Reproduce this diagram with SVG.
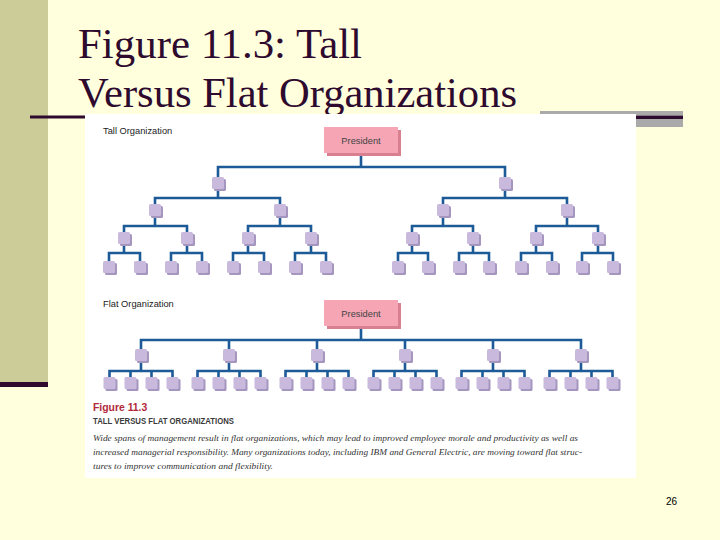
<svg xmlns="http://www.w3.org/2000/svg" xmlns:xlink="http://www.w3.org/1999/xlink" width="720" height="540" viewBox="0 0 720 540">
<style>
.title{font-family:"Liberation Serif","Times New Roman",serif;font-size:43px;fill:#2e0a2e}
.lbl{font-family:"Liberation Sans",Arial,sans-serif;font-size:9.3px;fill:#222}
.pres{font-family:"Liberation Sans",Arial,sans-serif;font-size:9.3px;fill:#444;text-anchor:middle}
.conn{fill:none;stroke:#1c5b97;stroke-width:2.6;stroke-linejoin:miter}
.nface{fill:#c9badd}
.nshadow{fill:#a596c0}
.pface{fill:#f5a5b4}
.pshadow{fill:#d8808f}
.capred{font-family:"Liberation Sans",Arial,sans-serif;font-weight:bold;font-size:10.4px;fill:#b0283a}
.caphead{font-family:"Liberation Sans",Arial,sans-serif;font-weight:bold;font-size:9.5px;fill:#3a3a3a}
.capital{font-family:"Liberation Serif","Times New Roman",serif;font-style:italic;font-size:9px;fill:#333}
.pg{font-family:"Liberation Sans",Arial,sans-serif;font-size:10px;fill:#000}
</style>
<defs>
<g id="node"><rect x="-4" y="2" width="12" height="12" rx="1.5" class="nshadow"/><rect x="-6" y="0" width="12" height="12" rx="1.5" class="nface"/></g>
<g id="presbox"><rect x="3" y="3" width="74" height="26" class="pshadow"/><rect x="0" y="0" width="74" height="26" class="pface"/></g>
</defs>
<rect x="0" y="0" width="720" height="540" fill="#ffffdd"/>
<rect x="0" y="0" width="48" height="382" fill="#cccc99"/>
<rect x="0" y="382" width="48" height="5" fill="#2e0a2e"/>
<rect x="30" y="115.5" width="55" height="3" fill="#2e0a2e"/>
<rect x="540" y="111" width="143" height="16" fill="#aaaaaa"/>
<rect x="635" y="115.7" width="48" height="3.3" fill="#2e0a2e"/>
<text class="title" x="78" y="58" textLength="284" lengthAdjust="spacingAndGlyphs">Figure 11.3: Tall</text>
<text class="title" x="78" y="107" textLength="439" lengthAdjust="spacingAndGlyphs">Versus Flat Organizations</text>
<rect x="85" y="114" width="551" height="364" fill="#ffffff"/>
<text class="lbl" x="103" y="134">Tall Organization</text>
<text class="lbl" x="103" y="307">Flat Organization</text>
<g id="connectors" class="conn">
<path d="M361 153 V167 M218 177 V167 H505 V177"/>
<path d="M218 189 V198 M155 204 V198 H280 V204"/>
<path d="M505 189 V198 M443 204 V198 H567 V204"/>
<path d="M155 216 V226 M124 232 V226 H187 V232"/>
<path d="M280 216 V226 M248 232 V226 H311 V232"/>
<path d="M443 216 V226 M412 232 V226 H473 V232"/>
<path d="M567 216 V226 M536 232 V226 H598 V232"/>
<path d="M124 244 V253 M109 261 V253 H140 V261"/>
<path d="M187 244 V253 M171 261 V253 H202 V261"/>
<path d="M248 244 V253 M233 261 V253 H264 V261"/>
<path d="M311 244 V253 M295 261 V253 H326 V261"/>
<path d="M412 244 V253 M398 261 V253 H428 V261"/>
<path d="M473 244 V253 M459 261 V253 H489 V261"/>
<path d="M536 244 V253 M521 261 V253 H552 V261"/>
<path d="M598 244 V253 M582 261 V253 H613 V261"/>
<path d="M361 326 V340 M141 349 V340 H581 V349 M229 349 V340 M317 349 V340 M405 349 V340 M493 349 V340"/>
<path d="M141 361 V371 M109.5 377 V371 H172.5 V377 M130.5 377 V371 M151.5 377 V371"/>
<path d="M229 361 V371 M197.5 377 V371 H260.5 V377 M218.5 377 V371 M239.5 377 V371"/>
<path d="M317 361 V371 M285.5 377 V371 H348.5 V377 M306.5 377 V371 M327.5 377 V371"/>
<path d="M405 361 V371 M373.5 377 V371 H436.5 V377 M394.5 377 V371 M415.5 377 V371"/>
<path d="M493 361 V371 M461.5 377 V371 H524.5 V377 M482.5 377 V371 M503.5 377 V371"/>
<path d="M581 361 V371 M549.5 377 V371 H612.5 V377 M570.5 377 V371 M591.5 377 V371"/>
</g>
<g id="tall-president"><use xlink:href="#presbox" x="324" y="127"/><text class="pres" x="361" y="144">President</text></g>
<g id="tall-1a"><use xlink:href="#node" x="218" y="177"/></g>
<g id="tall-1b"><use xlink:href="#node" x="505" y="177"/></g>
<g id="tall-2a"><use xlink:href="#node" x="155" y="204"/></g>
<g id="tall-2b"><use xlink:href="#node" x="280" y="204"/></g>
<g id="tall-2c"><use xlink:href="#node" x="443" y="204"/></g>
<g id="tall-2d"><use xlink:href="#node" x="567" y="204"/></g>
<g id="tall-3a"><use xlink:href="#node" x="124" y="232"/></g>
<g id="tall-3b"><use xlink:href="#node" x="187" y="232"/></g>
<g id="tall-3c"><use xlink:href="#node" x="248" y="232"/></g>
<g id="tall-3d"><use xlink:href="#node" x="311" y="232"/></g>
<g id="tall-3e"><use xlink:href="#node" x="412" y="232"/></g>
<g id="tall-3f"><use xlink:href="#node" x="473" y="232"/></g>
<g id="tall-3g"><use xlink:href="#node" x="536" y="232"/></g>
<g id="tall-3h"><use xlink:href="#node" x="598" y="232"/></g>
<g id="tall-4a"><use xlink:href="#node" x="109" y="261"/></g>
<g id="tall-4b"><use xlink:href="#node" x="140" y="261"/></g>
<g id="tall-4c"><use xlink:href="#node" x="171" y="261"/></g>
<g id="tall-4d"><use xlink:href="#node" x="202" y="261"/></g>
<g id="tall-4e"><use xlink:href="#node" x="233" y="261"/></g>
<g id="tall-4f"><use xlink:href="#node" x="264" y="261"/></g>
<g id="tall-4g"><use xlink:href="#node" x="295" y="261"/></g>
<g id="tall-4h"><use xlink:href="#node" x="326" y="261"/></g>
<g id="tall-4i"><use xlink:href="#node" x="398" y="261"/></g>
<g id="tall-4j"><use xlink:href="#node" x="428" y="261"/></g>
<g id="tall-4k"><use xlink:href="#node" x="459" y="261"/></g>
<g id="tall-4l"><use xlink:href="#node" x="489" y="261"/></g>
<g id="tall-4m"><use xlink:href="#node" x="521" y="261"/></g>
<g id="tall-4n"><use xlink:href="#node" x="552" y="261"/></g>
<g id="tall-4o"><use xlink:href="#node" x="582" y="261"/></g>
<g id="tall-4p"><use xlink:href="#node" x="613" y="261"/></g>
<g id="flat-president"><use xlink:href="#presbox" x="324" y="300"/><text class="pres" x="361" y="317">President</text></g>
<g id="flat-1a"><use xlink:href="#node" x="141" y="349"/></g>
<g id="flat-1b"><use xlink:href="#node" x="229" y="349"/></g>
<g id="flat-1c"><use xlink:href="#node" x="317" y="349"/></g>
<g id="flat-1d"><use xlink:href="#node" x="405" y="349"/></g>
<g id="flat-1e"><use xlink:href="#node" x="493" y="349"/></g>
<g id="flat-1f"><use xlink:href="#node" x="581" y="349"/></g>
<g id="flat-2a1"><use xlink:href="#node" x="109.5" y="377"/></g>
<g id="flat-2a2"><use xlink:href="#node" x="130.5" y="377"/></g>
<g id="flat-2a3"><use xlink:href="#node" x="151.5" y="377"/></g>
<g id="flat-2a4"><use xlink:href="#node" x="172.5" y="377"/></g>
<g id="flat-2b1"><use xlink:href="#node" x="197.5" y="377"/></g>
<g id="flat-2b2"><use xlink:href="#node" x="218.5" y="377"/></g>
<g id="flat-2b3"><use xlink:href="#node" x="239.5" y="377"/></g>
<g id="flat-2b4"><use xlink:href="#node" x="260.5" y="377"/></g>
<g id="flat-2c1"><use xlink:href="#node" x="285.5" y="377"/></g>
<g id="flat-2c2"><use xlink:href="#node" x="306.5" y="377"/></g>
<g id="flat-2c3"><use xlink:href="#node" x="327.5" y="377"/></g>
<g id="flat-2c4"><use xlink:href="#node" x="348.5" y="377"/></g>
<g id="flat-2d1"><use xlink:href="#node" x="373.5" y="377"/></g>
<g id="flat-2d2"><use xlink:href="#node" x="394.5" y="377"/></g>
<g id="flat-2d3"><use xlink:href="#node" x="415.5" y="377"/></g>
<g id="flat-2d4"><use xlink:href="#node" x="436.5" y="377"/></g>
<g id="flat-2e1"><use xlink:href="#node" x="461.5" y="377"/></g>
<g id="flat-2e2"><use xlink:href="#node" x="482.5" y="377"/></g>
<g id="flat-2e3"><use xlink:href="#node" x="503.5" y="377"/></g>
<g id="flat-2e4"><use xlink:href="#node" x="524.5" y="377"/></g>
<g id="flat-2f1"><use xlink:href="#node" x="549.5" y="377"/></g>
<g id="flat-2f2"><use xlink:href="#node" x="570.5" y="377"/></g>
<g id="flat-2f3"><use xlink:href="#node" x="591.5" y="377"/></g>
<g id="flat-2f4"><use xlink:href="#node" x="612.5" y="377"/></g>
<g id="caption">
<text class="capred" x="93" y="411">Figure 11.3</text>
<text class="caphead" x="93" y="424" textLength="141" lengthAdjust="spacingAndGlyphs">TALL VERSUS FLAT ORGANIZATIONS</text>
<text class="capital" x="93" y="441" textLength="485" lengthAdjust="spacingAndGlyphs">Wide spans of management result in flat organizations, which may lead to improved employee morale and productivity as well as</text>
<text class="capital" x="93" y="455" textLength="489" lengthAdjust="spacingAndGlyphs">increased managerial responsibility. Many organizations today, including IBM and General Electric, are moving toward flat struc-</text>
<text class="capital" x="93" y="469" textLength="180" lengthAdjust="spacingAndGlyphs">tures to improve communication and flexibility.</text>
</g>
<text class="pg" x="666" y="505">26</text>
</svg>
